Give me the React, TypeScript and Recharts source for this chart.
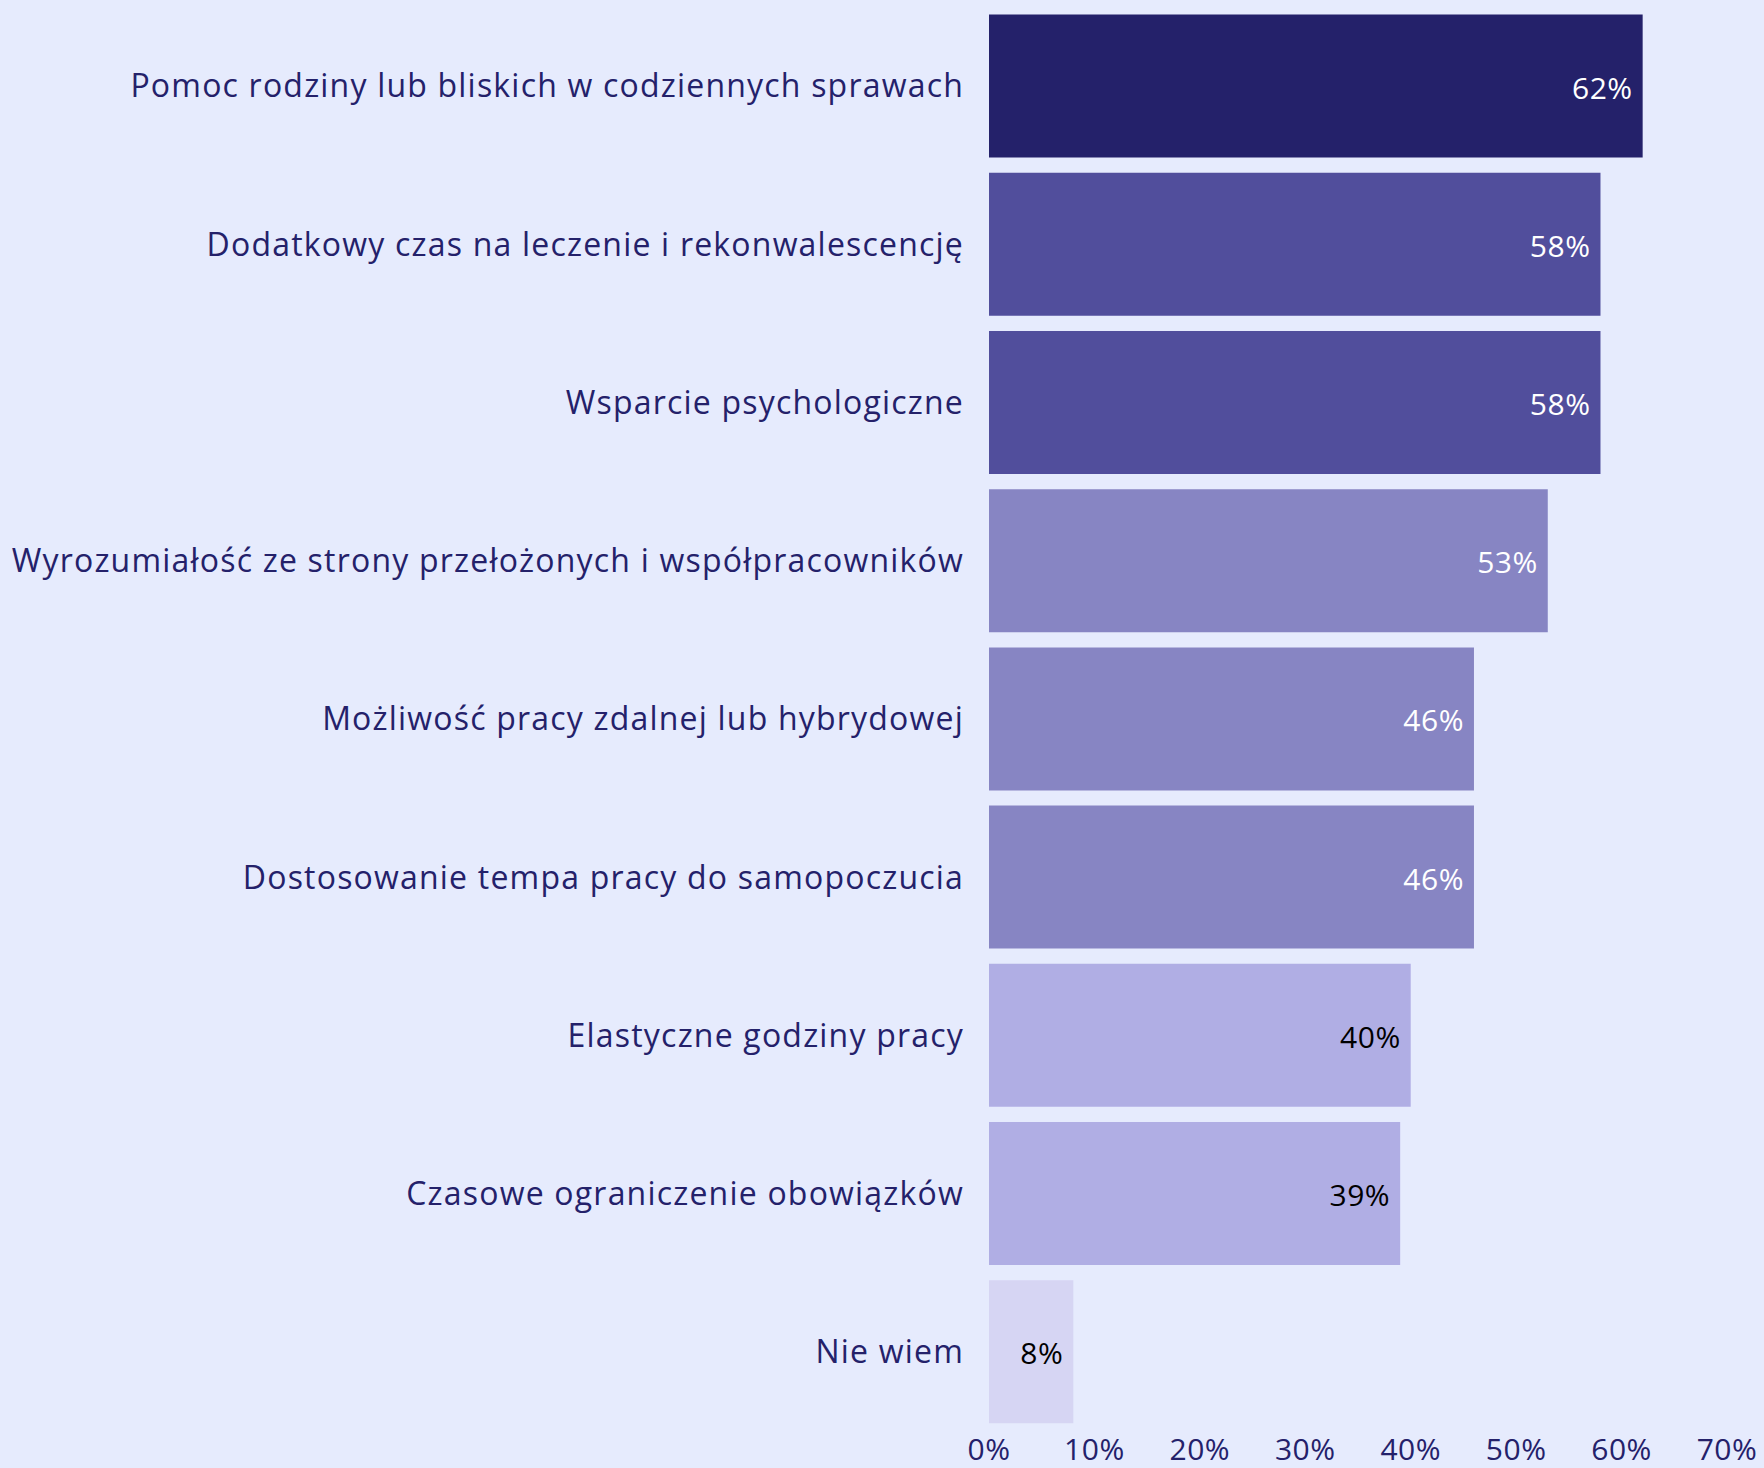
import React from "react";
import { BarChart, Bar, XAxis, YAxis, Cell, LabelList } from "recharts";

const categories = [
  "Pomoc rodziny lub bliskich w codziennych sprawach",
  "Dodatkowy czas na leczenie i rekonwalescencję",
  "Wsparcie psychologiczne",
  "Wyrozumiałość ze strony przełożonych i współpracowników",
  "Możliwość pracy zdalnej lub hybrydowej",
  "Dostosowanie tempa pracy do samopoczucia",
  "Elastyczne godziny pracy",
  "Czasowe ograniczenie obowiązków",
  "Nie wiem",
];
const values = [62, 58, 58, 53, 46, 46, 40, 39, 8];
const barColors = ["#24216A", "#514E9C", "#514E9C", "#8785C3", "#8785C3", "#8785C3", "#B0AEE4", "#B0AEE4", "#D6D5F3"];
const labelColors = ["#FFFFFF", "#FFFFFF", "#FFFFFF", "#FFFFFF", "#FFFFFF", "#FFFFFF", "#000000", "#000000", "#000000"];
const xTicks = [0, 10, 20, 30, 40, 50, 60, 70];

const data = categories.map((name, i) => ({ name, value: values[i] }));

const FONT = "'Open Sans', sans-serif";
const NAVY = "#24216A";

const ValueLabel = (props: any) => {
  const { x, y, width, height, value, index } = props;
  return (
    <text
      x={x + width - 10}
      y={y + height / 2 + 1}
      textAnchor="end"
      dominantBaseline="central"
      fill={labelColors[index]}
      fontSize={30}
      fontFamily={FONT}
      letterSpacing={0.5}
    >
      {value}%
    </text>
  );
};

export default function App() {
  return (
    <div style={{ position: "absolute", left: 0, top: 0, width: 1764, height: 1468, background: "#E6EBFD" }}>
      <BarChart
        width={1764}
        height={1468}
        data={data}
        layout="vertical"
        margin={{ top: 7, right: 37, bottom: 0, left: 0 }}
        barCategoryGap={7.5}
      >
        <XAxis
          type="number"
          domain={[0, 70]}
          ticks={xTicks}
          tickFormatter={(v: number) => `${v}%`}
          axisLine={false}
          tickLine={false}
          tickSize={0}
          tickMargin={8}
          height={37}
          interval={0}
          tick={{ fill: NAVY, fontSize: 30, fontFamily: FONT, letterSpacing: 0.5 }}
        />
        <YAxis
          type="category"
          dataKey="name"
          width={989}
          axisLine={false}
          tickLine={false}
          tickSize={0}
          tickMargin={25}
          interval={0}
          tick={{ fill: NAVY, fontSize: 32, fontFamily: FONT, letterSpacing: 1.2 }}
        />
        <Bar dataKey="value" isAnimationActive={false}>
          {data.map((d, i) => (
            <Cell key={i} fill={barColors[i]} />
          ))}
          <LabelList dataKey="value" content={<ValueLabel />} />
        </Bar>
      </BarChart>
    </div>
  );
}
